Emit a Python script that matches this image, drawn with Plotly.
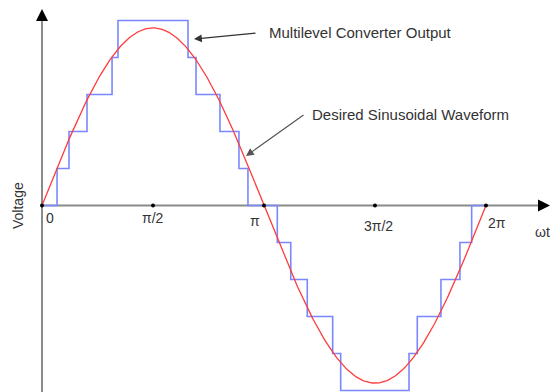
import numpy as np
import plotly.graph_objects as go

# ---- data ----
# switching angles (degrees) of the multilevel staircase over one cycle
step_angles_deg = [12.2, 21.9, 36.5, 56.8, 61.6,
                   118.4, 124.9, 144.3, 159.7, 167.0,
                   190.8, 201.7, 215.1, 235.7, 242.2,
                   297.6, 304.3, 323.5, 338.9, 348.4]
# voltage level reached after each switching angle
step_levels = [1, 2, 3, 4, 5,
               4, 3, 2, 1, 0,
               -1, -2, -3, -4, -5,
               -4, -3, -2, -1, 0]
# amplitude of the desired sinusoid (in level units)
sine_amplitude = 4.8

tick_values = [0, np.pi / 2, np.pi, 3 * np.pi / 2, 2 * np.pi]
tick_labels = ["0", "π/2", "π", "3π/2", "2π"]
tick_label_shift = [(7.5, -12.5), (0, -12.5), (-9, -15.5), (4, -20.5), (11, -17.5)]

# ---- geometry ----
W, H = 551, 392
X0PX, PXR = 42, 70.66        # x pixel of origin, pixels per radian
Y0PX, PXL = 205.5, 37.0      # y pixel of origin, pixels per level
xr = [-X0PX / PXR, (W - X0PX) / PXR]
yr = [(Y0PX - H) / PXL, Y0PX / PXL]

def px_x(p):
    return (p - X0PX) / PXR

def px_y(p):
    return (Y0PX - p) / PXL

FONT = "Liberation Sans, Arial, sans-serif"
TXT = "#333333"

fig = go.Figure()

# staircase
sx = [0.0] + [np.deg2rad(a) for a in step_angles_deg] + [2 * np.pi]
sy = [0] + step_levels + [0]
fig.add_trace(go.Scatter(x=sx, y=sy, mode="lines", line_shape="hv",
                         line=dict(color="#7a88ff", width=1.6), hoverinfo="skip"))

# desired sinusoid
th = np.linspace(0, 2 * np.pi, 400)
fig.add_trace(go.Scatter(x=th, y=sine_amplitude * np.sin(th), mode="lines",
                         line=dict(color="#ff3b3b", width=1.3), hoverinfo="skip"))

# axes lines
fig.add_shape(type="line", x0=0, x1=px_x(541), y0=0, y1=0,
              line=dict(color="#8a8a8a", width=2), layer="below")
fig.add_shape(type="line", x0=0, x1=0, y0=yr[0] - 0.2, y1=px_y(18),
              line=dict(color="#8a8a8a", width=2), layer="below")

# tick dots
fig.add_trace(go.Scatter(x=tick_values, y=[0] * len(tick_values), mode="markers",
                         marker=dict(color="black", size=4), hoverinfo="skip"))

annotations = []
# axis arrowheads
annotations.append(dict(x=px_x(550), y=0, ax=px_x(540), ay=0, axref="x", ayref="y",
                        xref="x", yref="y", text="", showarrow=True, arrowhead=2,
                        arrowsize=1.2, arrowwidth=2, arrowcolor="black"))
annotations.append(dict(x=0, y=px_y(9), ax=0, ay=px_y(19), axref="x", ayref="y",
                        xref="x", yref="y", text="", showarrow=True, arrowhead=2,
                        arrowsize=1.2, arrowwidth=2, arrowcolor="black"))

for v, lab, (dx, dy) in zip(tick_values, tick_labels, tick_label_shift):
    annotations.append(dict(x=v, y=0, xref="x", yref="y", text=lab, showarrow=False,
                            xshift=dx, yshift=dy, font=dict(family=FONT, size=14, color=TXT)))

annotations.append(dict(x=px_x(542), y=0, xref="x", yref="y", text="ωt", showarrow=False,
                        yshift=-26.5, font=dict(family=FONT, size=14, color=TXT)))
annotations.append(dict(x=px_x(18), y=px_y(206), xref="x", yref="y", text="Voltage",
                        showarrow=False, textangle=-90,
                        font=dict(family=FONT, size=14, color=TXT)))

# callouts
annotations.append(dict(x=px_x(267), y=px_y(32), xref="x", yref="y", xanchor="left",
                        text="Multilevel Converter Output", showarrow=False,
                        font=dict(family=FONT, size=15, color=TXT)))
annotations.append(dict(x=px_x(194), y=px_y(39), ax=px_x(257), ay=px_y(33),
                        xref="x", yref="y", axref="x", ayref="y", text="", showarrow=True,
                        arrowhead=2, arrowsize=1.3, arrowwidth=1.2, arrowcolor="#333333"))
annotations.append(dict(x=px_x(310), y=px_y(114), xref="x", yref="y", xanchor="left",
                        text="Desired Sinusoidal Waveform", showarrow=False,
                        font=dict(family=FONT, size=15, color=TXT)))
annotations.append(dict(x=px_x(246), y=px_y(156), ax=px_x(305), ay=px_y(114),
                        xref="x", yref="y", axref="x", ayref="y", text="", showarrow=True,
                        arrowhead=2, arrowsize=1.3, arrowwidth=1.2, arrowcolor="#555555"))

fig.update_layout(
    width=W, height=H, margin=dict(l=0, r=0, t=0, b=0),
    paper_bgcolor="white", plot_bgcolor="white", showlegend=False,
    xaxis=dict(range=xr, visible=False, fixedrange=True),
    yaxis=dict(range=yr, visible=False, fixedrange=True),
    annotations=annotations,
)

fig.write_html("out.html", config={"displayModeBar": False},
               post_script="document.body.style.margin='0';document.body.style.overflow='hidden';")
